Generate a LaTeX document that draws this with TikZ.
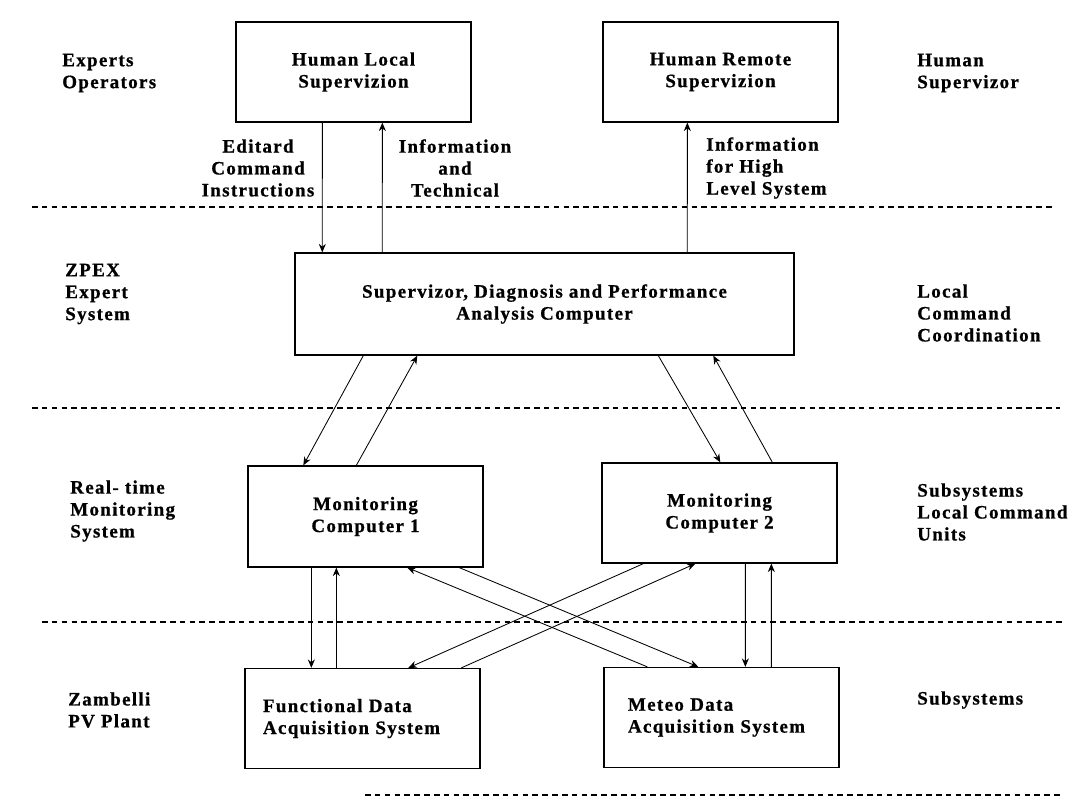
\documentclass[tikz,border=0pt]{standalone}
\usepackage{fontspec}
\setmainfont{Liberation Serif}
\usetikzlibrary{arrows.meta,calc,positioning}
\newcommand{\diagfont}{\fontsize{13.5}{15.6}\selectfont\bfseries\addfontfeature{LetterSpace=7,FakeBold=0.8}}

\begin{document}
\begin{tikzpicture}[
    x=0.025cm, y=-0.025cm,
    unit/.style={draw,line width=0.9pt,align=center,inner sep=0pt,font=\diagfont,
                 minimum width=5.875cm,minimum height=2.5cm},
    side/.style={align=left,anchor=west,inner sep=0pt,font=\diagfont},
    note/.style={align=center,inner sep=0pt,font=\diagfont},
    flow/.style={-{Stealth[length=6pt,width=5pt]},line width=0.6pt},
    level/.style={line width=0.9pt,dash pattern=on 4pt off 3pt}
]
\useasboundingbox (0,0) rectangle (1069,801);

% Supervision level
\node[unit] (local) at (353.5,72) {Human Local\\Supervizion};
\node[unit] (remote) at (720.5,72) {Human Remote\\Supervizion};

% Coordination level
\node[unit,minimum width=12.475cm,minimum height=2.55cm] (sup) at (544.5,304)
    {Supervizor, Diagnosis and Performance\\Analysis Computer};

% Monitoring level
\node[unit,minimum height=2.525cm] (mon1) at (365.5,516.5) {Monitoring\\Computer 1};
\node[unit] (mon2) at (719.5,513) {Monitoring\\Computer 2};

% Acquisition level
\node[unit,align=left,inner xsep=0.45cm,text width=4.975cm] (func) at (362.5,718.5)
    {Functional Data\\Acquisition System\\[-6pt]};
\node[unit,align=left,inner xsep=0.6cm,text width=4.675cm] (meteo) at (721.5,717.5)
    {Meteo Data\\Acquisition System\\[-6pt]};

% Level names, left
\node[side] (experts) at (62,73) {Experts\\Operators};
\node[side] (zpex) at (65,294) {ZPEX\\Expert\\System};
\node[side] (realtime) at (70,511) {Real- time\\Monitoring\\System};
\node[side] (zambelli) at (68,710) {Zambelli\\PV Plant};

% Level names, right
\node[side] (humansup) at (917,73) {Human\\Supervizor};
\node[side] (localcmd) at (917,313) {Local\\Command\\Coordination};
\node[side] (subunits) at (917,512) {Subsystems\\Local Command\\Units};
\node[side] (subsys) at (917,700) {Subsystems};

% Labels of the upper links
\node[note] (editard) at (258,168) {Editard\\Command\\Instructions};
\node[note] (info) at (455,168) {Information\\and\\Technical};
\node[side] (infohigh) at (706,168) {Information\\for High\\Level System};

% Level separators
\draw[level] (32,207) -- (1055,207);
\draw[level] (32,408) -- (1060,408);
\draw[level] (42,622) -- (1062,622);
\draw[level] (365,795) -- (1062,795);

% Links supervision - coordination
\draw[flow] ($(local.south west)+(87,0)$) -- ($(sup.north west)+(28,0)$);
\draw[flow] ($(sup.north west)+(88,0)$) -- ($(local.south west)+(147,0)$);
\draw[flow] ($(sup.north west)+(393,0)$) -- ($(remote.south west)+(85,0)$);

% Links coordination - monitoring
\draw[flow] ($(sup.south west)+(69,0)$) -- ($(mon1.north west)+(56,0)$);
\draw[flow] ($(mon1.north west)+(109,0)$) -- ($(sup.south west)+(123,0)$);
\draw[flow] ($(sup.south west)+(364,0)$) -- ($(mon2.north west)+(119,0)$);
\draw[flow] ($(mon2.north west)+(171,0)$) -- ($(sup.south west)+(419,0)$);

% Links monitoring - acquisition
\draw[flow] ($(mon1.south west)+(64,0)$) -- ($(func.north west)+(67,0)$);
\draw[flow] ($(func.north west)+(92,0)$) -- ($(mon1.south west)+(89,0)$);
\draw[flow] ($(mon2.south west)+(144,0)$) -- ($(meteo.north west)+(142,0)$);
\draw[flow] ($(meteo.north west)+(168,0)$) -- ($(mon2.south west)+(170,0)$);

% Crossed links
\draw[flow] ($(meteo.north west)+(44,0)$) -- ($(mon1.south west)+(160,0)$);
\draw[flow] ($(mon1.south west)+(212,0)$) -- ($(meteo.north west)+(95,0)$);
\draw[flow] ($(func.north west)+(217,0)$) -- ($(mon2.south west)+(94,0)$);
\draw[flow] ($(mon2.south west)+(42,0)$) -- ($(func.north west)+(164,0)$);
\end{tikzpicture}
\end{document}
